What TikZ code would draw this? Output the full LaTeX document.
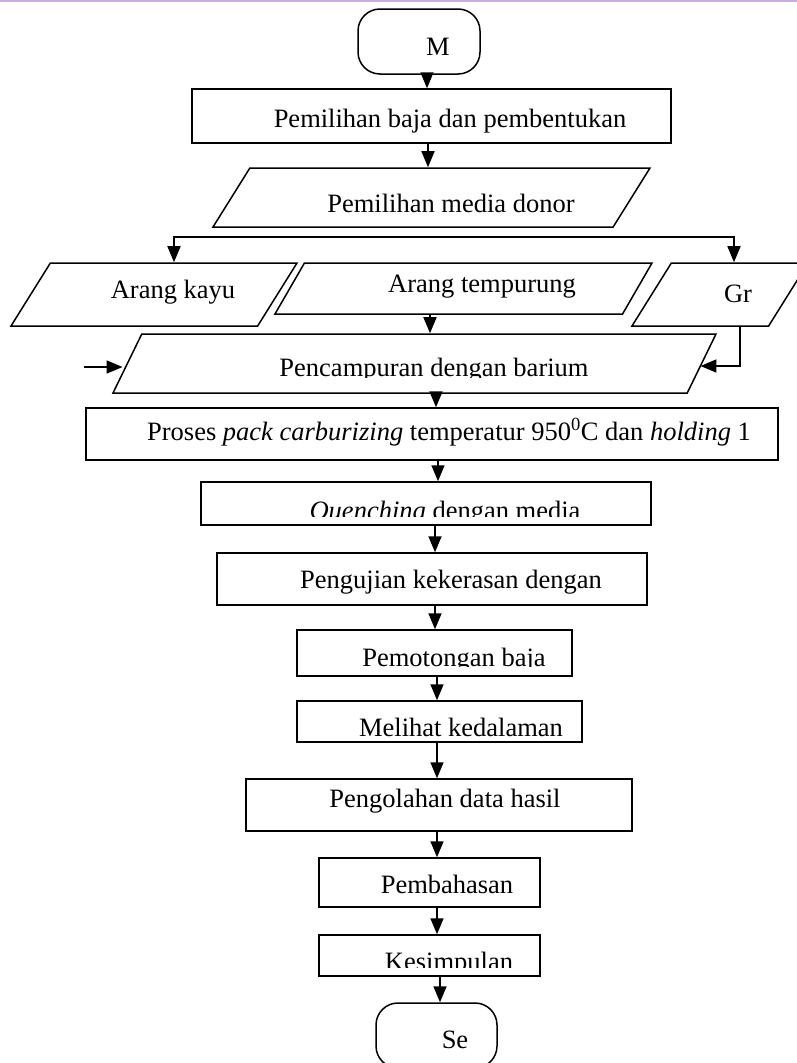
\documentclass[tikz,border=0pt]{standalone}
\usepackage{fontspec}
\setmainfont{Liberation Serif}
\usepackage{tikz}
\usetikzlibrary{arrows.meta,shapes.geometric}
\definecolor{rulePurple}{HTML}{C9AEE3}
\tikzset{
  proc/.style={rectangle, draw=black, line width=1.5pt, inner sep=0pt},
  term/.style={rectangle, rounded corners=22pt, draw=black, line width=1.5pt, inner sep=0pt, minimum width=122pt, minimum height=65pt},
  data/.style={trapezium, trapezium left angle=58, trapezium right angle=122, trapezium stretches body, draw=black, line width=1.5pt, inner sep=0pt, text depth=0pt},
  lbl/.style={inner sep=0pt, anchor=base, font=\fontsize{26.5}{31}\selectfont},
  arrow/.style={-{Triangle[length=16pt,width=13pt]}, line width=1.6pt},
  twoway/.style={{Triangle[length=16pt,width=13pt]}-{Triangle[length=16pt,width=13pt]}, line width=1.6pt}
}
\begin{document}
\begin{tikzpicture}[x=1pt, y=-1pt]
\clip (0,0) rectangle (797,1063);
\draw[rulePurple, line width=2pt] (0,1) -- (797,1);
% shapes
\node[term] (mulai) at (419,41.5) {};
\node[lbl] (mulai-t) at (438,55) {M};
\node[proc, minimum width=479pt, minimum height=54pt] (pilih) at (431.5,116) {};
\node[lbl] (pilih-t) at (450,127) {Pemilihan baja dan pembentukan};
\node[data, text height=59pt, minimum width=437pt] (donor) at (431.5,197.5) {};
\node[lbl] (donor-t) at (451,212) {Pemilihan media donor};
\node[data, text height=63pt, minimum width=286pt] (kayu) at (154,294.5) {};
\node[lbl] (kayu-t) at (173,298) {Arang kayu};
\node[data, trapezium left angle=60, trapezium right angle=120, text height=51pt, minimum width=377pt] (tempurung) at (463.5,288.5) {};
\node[lbl] (tempurung-t) at (482,292) {Arang tempurung};
\node[data, text height=63pt, minimum width=176pt] (gr) at (720,294.5) {};
\node[lbl] (gr-t) at (738,302) {Gr};
\node[data, trapezium left angle=64, trapezium right angle=116, text height=59pt, minimum width=603pt] (campur) at (414.5,363.5) {};
\node[proc, minimum width=692pt, minimum height=52pt] (proses) at (432,434) {};
\node[lbl] (proses-t) at (449,440) {Proses \textit{pack carburizing} temperatur 950\textsuperscript{0}C dan \textit{holding} 1};
\node[proc, minimum width=450pt, minimum height=43pt] (quench) at (426,503.5) {};
\node[proc, minimum width=430pt, minimum height=52pt] (uji) at (432,579) {};
\node[lbl] (uji-t) at (451,588) {Pengujian kekerasan dengan};
\node[proc, minimum width=275pt, minimum height=46pt] (potong) at (434.5,653) {};
\node[proc, minimum width=285pt, minimum height=41pt] (lihat) at (439.5,721.5) {};
\node[lbl] (lihat-t) at (461,736) {Melihat kedalaman};
\node[proc, minimum width=386pt, minimum height=52pt] (olah) at (439,805) {};
\node[lbl] (olah-t) at (445,807) {Pengolahan data hasil};
\node[proc, minimum width=221pt, minimum height=49pt] (bahas) at (429.5,882.5) {};
\node[lbl] (bahas-t) at (447,893) {Pembahasan};
\node[proc, minimum width=221pt, minimum height=41pt] (simpul) at (429.5,955.5) {};
\node[term, minimum width=121pt] (selesai) at (436.5,1035.5) {};
\node[lbl] (selesai-t) at (455,1048) {Se};
% texts cut off at the bottom of their boxes
\begin{scope}
  \clip ([yshift=16]campur.bottom left corner) rectangle (campur.top right corner);
  \node[lbl] (campur-t) at (434,376) {Pencampuran dengan barium};
\end{scope}
\begin{scope}
  \clip ([yshift=9]quench.south west) rectangle (quench.north east);
  \node[lbl] (quench-t) at (445,519) {\textit{Quenching} dengan media};
\end{scope}
\begin{scope}
  \clip ([yshift=10]potong.south west) rectangle (potong.north east);
  \node[lbl] (potong-t) at (454,666) {Pemotongan baja};
\end{scope}
\begin{scope}
  \clip ([yshift=9]simpul.south west) rectangle (simpul.north east);
  \node[lbl] (simpul-t) at (449,970) {Kesimpulan};
\end{scope}
% connectors
\coordinate (split) at (454,237);
\coordinate (feed) at (84,367);
\draw[arrow] (mulai.south -| 427,0) -- (pilih.north -| 427,0);
\draw[arrow] (pilih.south -| 428,0) -- (donor.north -| 428,0);
\draw[twoway] (kayu.north -| 174,0) |- (split) -| (gr.north -| 734,0);
\draw[arrow] (tempurung.south -| 430,0) -- (campur.north -| 430,0);
\draw[arrow] (feed) -- ([xshift=-4]campur.west |- feed);
\draw[arrow] (gr.south -| 740,0) |- ([xshift=-2]campur.east |- 0,366);
\draw[arrow] (campur.south -| 436,0) -- (proses.north -| 436,0);
\draw[arrow] (proses.south -| 438,0) -- (quench.north -| 438,0);
\draw[arrow] (quench.south -| 435,0) -- (uji.north -| 435,0);
\draw[arrow] (uji.south -| 435,0) -- (potong.north -| 435,0);
\draw[arrow] (potong.south -| 437,0) -- (lihat.north -| 437,0);
\draw[arrow] (lihat.south -| 437,0) -- (olah.north -| 437,0);
\draw[arrow] (olah.south -| 437,0) -- (bahas.north -| 437,0);
\draw[arrow] (bahas.south -| 437,0) -- (simpul.north -| 437,0);
\draw[arrow] (simpul.south -| 440,0) -- (selesai.north -| 440,0);
\end{tikzpicture}
\end{document}
